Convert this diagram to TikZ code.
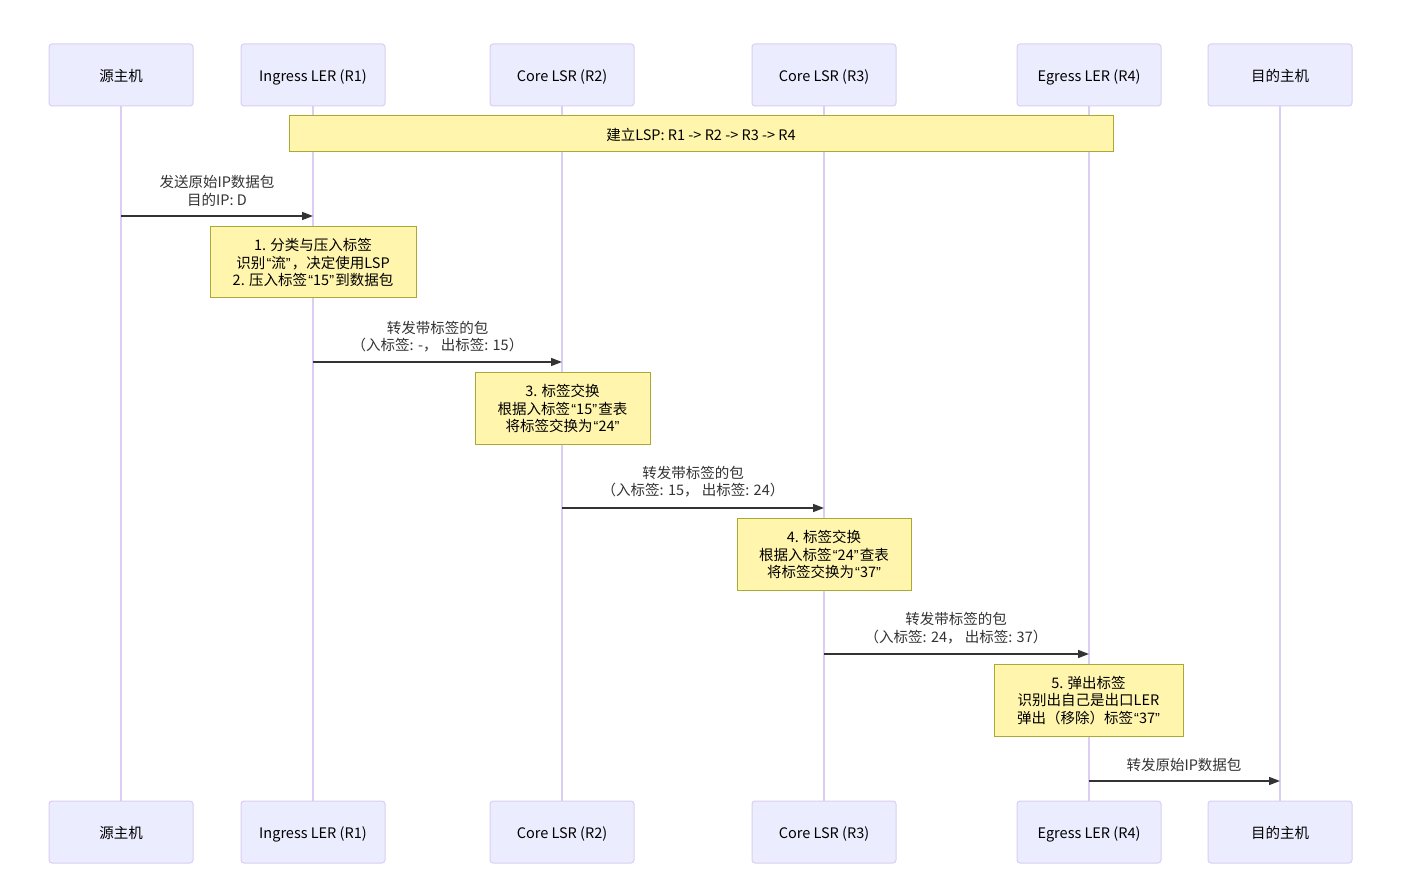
\documentclass[tikz,border=0pt]{standalone}
\usepackage{fontspec}
\setmainfont{Noto Sans CJK SC}
\newfontfamily\qfont{Liberation Sans}
\newcommand{\oqm}{{\qfont\hspace{1.2pt}“}}
\newcommand{\cqm}{{\qfont ”\hspace{1.2pt}}}
\usetikzlibrary{arrows.meta}
\definecolor{actfill}{HTML}{ECECFF}
\definecolor{actborder}{HTML}{DACEF3}
\definecolor{notefill}{HTML}{FFF5AD}
\definecolor{noteborder}{HTML}{AAAA33}
\definecolor{txt}{HTML}{333333}
\tikzset{
  actor/.style={draw=actborder, fill=actfill, line width=1pt, rounded corners=3pt,
    minimum width=144pt, minimum height=62pt, inner sep=0pt, text=black,
    text height=13pt, text depth=0pt,
    font=\fontsize{14.5}{17}\selectfont},
  note/.style={draw=noteborder, fill=notefill, line width=1pt, inner sep=0pt,
    align=center, text=black, font=\fontsize{14.5}{17.6}\selectfont},
  life/.style={draw=actborder, line width=1.5pt},
  msg/.style={draw=txt, line width=1.5pt, -{Triangle[length=11pt,width=8pt]}},
  lbl/.style={text=txt, align=center, inner sep=0pt, font=\fontsize{14.5}{17.6}\selectfont}
}
\begin{document}
\begin{tikzpicture}[x=1pt,y=-1pt]
\useasboundingbox[fill=white] (0,0) rectangle (1409,885);
% top actors
\node[actor] (t1) at (121,75) {源主机};
\node[actor] (t2) at (313,75) {Ingress LER (R1)};
\node[actor] (t3) at (562,75) {Core LSR (R2)};
\node[actor] (t4) at (824,75) {Core LSR (R3)};
\node[actor] (t5) at (1089,75) {Egress LER (R4)};
\node[actor] (t6) at (1280,75) {目的主机};
% bottom actors
\node[actor] (b1) at (121,832) {源主机};
\node[actor] (b2) at (313,832) {Ingress LER (R1)};
\node[actor] (b3) at (562,832) {Core LSR (R2)};
\node[actor] (b4) at (824,832) {Core LSR (R3)};
\node[actor] (b5) at (1089,832) {Egress LER (R4)};
\node[actor] (b6) at (1280,832) {目的主机};
% lifelines
\foreach \i in {1,...,6} {\draw[life] (t\i.south) -- (b\i.north);}
% LSP note
\node[note, minimum width=824pt, minimum height=36pt, text height=13pt, text depth=0pt] (lsp) at (701,134) {建立LSP: R1 -> R2 -> R3 -> R4};
% message 1
\coordinate (m1s) at (121,216); \coordinate (m1e) at (313,216);
\draw[msg] (m1s) -- (m1e);
\node[lbl] (l1) at (217,191) {发送原始IP数据包\\目的IP: D};
\node[note, minimum width=206pt, minimum height=71pt] (n1) at (313,262.5) {1. 分类与压入标签\\识别\oqm 流\cqm ，决定使用LSP\\2. 压入标签\oqm 15\cqm 到数据包};
% message 2
\coordinate (m2s) at (313,362); \coordinate (m2e) at (562,362);
\draw[msg] (m2s) -- (m2e);
\node[lbl] (l2) at (437.5,336.5) {转发带标签的包\\（入标签: -， 出标签: 15）};
\node[note, minimum width=175pt, minimum height=72pt] (n3) at (562.5,408.5) {3. 标签交换\\根据入标签\oqm 15\cqm 查表\\将标签交换为\oqm 24\cqm};
% message 3
\coordinate (m3s) at (562,508); \coordinate (m3e) at (824,508);
\draw[msg] (m3s) -- (m3e);
\node[lbl] (l3) at (693,481.5) {转发带标签的包\\（入标签: 15， 出标签: 24）};
\node[note, minimum width=174pt, minimum height=72pt] (n4) at (824,554.5) {4. 标签交换\\根据入标签\oqm 24\cqm 查表\\将标签交换为\oqm 37\cqm};
% message 4
\coordinate (m4s) at (824,654); \coordinate (m4e) at (1089,654);
\draw[msg] (m4s) -- (m4e);
\node[lbl] (l4) at (956,628) {转发带标签的包\\（入标签: 24， 出标签: 37）};
\node[note, minimum width=189pt, minimum height=72pt] (n5) at (1088.5,700.5) {5. 弹出标签\\识别出自己是出口LER\\弹出（移除）标签\oqm 37\cqm};
% message 5
\coordinate (m5s) at (1089,781); \coordinate (m5e) at (1280,781);
\draw[msg] (m5s) -- (m5e);
\node[lbl] (l5) at (1184,765) {转发原始IP数据包};
\end{tikzpicture}
\end{document}
